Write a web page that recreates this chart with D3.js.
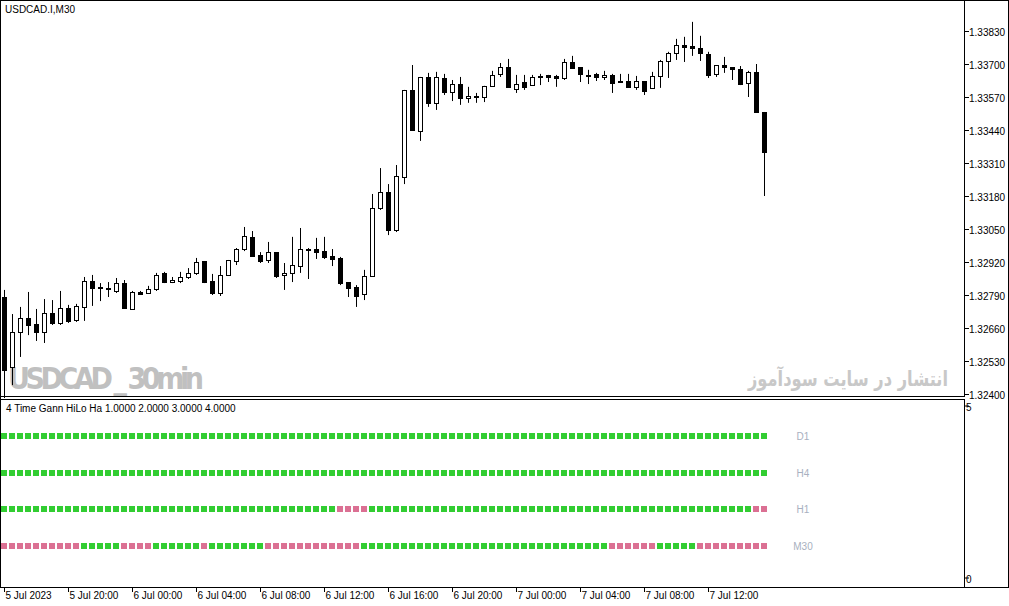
<!DOCTYPE html>
<html><head><meta charset="utf-8">
<script src="https://cdn.jsdelivr.net/npm/d3@7"></script>
<style>body{margin:0;background:#fff}svg{display:block;font-family:Tahoma,"Liberation Sans",sans-serif}</style>
</head><body><svg id="c" width="1009" height="606"></svg>
<script>
// prices in points (1e-5)
const open = [132782,132506,132644,132699,132676,132644,132719,132680,132739,132692,132743,132845,132822,132814,132806,132837,132735,132802,132798,132814,132877,132841,132845,132861,132877,132924,132845,132798,132869,132924,132971,133019,132948,132928,132959,132869,132877,132904,132971,132971,132963,132944,132936,132841,132822,132794,132865,133133,133196,133046,133255,133598,133436,133649,133547,133645,133590,133621,133566,133574,133570,133614,133661,133688,133602,133629,133617,133653,133657,133653,133645,133708,133688,133657,133661,133649,133657,133633,133633,133610,133633,133606,133653,133712,133744,133775,133771,133763,133740,133661,133696,133688,133681,133625,133669,133511];
const high = [132810,132715,132743,132802,132735,132774,132770,132806,132751,132755,132861,132869,132837,132841,132857,132849,132806,132806,132826,132877,132881,132861,132881,132896,132936,132924,132873,132904,132928,132975,133058,133042,132959,132999,132959,132916,133019,133054,132975,133015,133019,132971,132940,132841,132829,132889,133188,133290,133227,133302,133598,133696,133649,133665,133669,133661,133637,133649,133610,133586,133614,133673,133704,133720,133657,133657,133657,133661,133657,133657,133720,133732,133688,133677,133665,133673,133661,133661,133661,133653,133633,133669,133716,133748,133799,133807,133866,133811,133748,133696,133728,133688,133692,133673,133700,133511];
const low = [132384,132435,132546,132632,132609,132601,132672,132672,132680,132684,132688,132747,132766,132782,132798,132735,132735,132790,132794,132806,132837,132837,132837,132853,132869,132837,132790,132786,132869,132908,132963,132944,132916,132916,132857,132810,132841,132877,132853,132932,132932,132904,132829,132782,132743,132770,132865,133125,133026,133038,133227,133436,133397,133531,133519,133578,133554,133539,133547,133547,133550,133614,133649,133610,133586,133598,133614,133617,133629,133610,133637,133681,133629,133621,133633,133637,133586,133629,133610,133598,133578,133602,133606,133645,133716,133708,133732,133712,133645,133649,133665,133637,133617,133570,133511,133180];
const close = [132495,132644,132699,132672,132644,132719,132680,132739,132688,132747,132845,132818,132818,132818,132837,132739,132802,132794,132814,132869,132841,132849,132861,132877,132920,132841,132798,132869,132928,132971,133023,132944,132924,132959,132865,132877,132908,132971,132971,132959,132940,132932,132837,132818,132786,132865,133133,133196,133046,133259,133598,133440,133649,133547,133649,133590,133621,133566,133574,133570,133614,133657,133688,133610,133621,133610,133649,133653,133649,133645,133708,133684,133661,133657,133649,133657,133625,133629,133610,133633,133594,133653,133712,133744,133775,133767,133763,133744,133657,133696,133688,133681,133621,133669,133511,133353];
// Gann HiLo state per timeframe: 1 = up (green), 0 = down (pink); [count, state]
const tfLabels = ["D1","H4","H1","M30"];
const tfLevels = [4,3,2,1];
const runsD1  = [[96,1]];
const runsH4  = [[96,1]];
const runsH1  = [[42,1],[4,0],[48,1],[2,0]];
const runsM30 = [[10,0],[5,1],[4,0],[6,1],[1,0],[7,1],[12,0],[31,1],[6,0],[5,1],[9,0]];
const priceTicks = [1.32400,1.32530,1.32660,1.32790,1.32920,1.33050,1.33180,1.33310,1.33440,1.33570,1.33700,1.33830];
const timeLabels = [[0,"5 Jul 2023"],[8,"5 Jul 20:00"],[16,"6 Jul 00:00"],[24,"6 Jul 04:00"],[32,"6 Jul 08:00"],[40,"6 Jul 12:00"],[48,"6 Jul 16:00"],[56,"6 Jul 20:00"],[64,"7 Jul 00:00"],[72,"7 Jul 04:00"],[80,"7 Jul 08:00"],[88,"7 Jul 12:00"]];

const svg = d3.select("#c");
const N = open.length;
const x = d3.scaleLinear().domain([0, N-1]).range([4, 764]);
const y = d3.scaleLinear().domain([1.32400, 1.33830]).range([394, 31]);
const ys = d3.scaleLinear().domain([0,5]).range([583, 399]);
const P = v => v/1e5;
const F = "'Liberation Sans',Arial,sans-serif";

svg.append("rect").attr("x",0.5).attr("y",0.5).attr("width",1008).attr("height",587).attr("fill","none").attr("stroke","#000");
svg.append("rect").attr("x",0.5).attr("y",0.5).attr("width",964).attr("height",396).attr("fill","none").attr("stroke","#000");
svg.append("rect").attr("x",0.5).attr("y",399.5).attr("width",964).attr("height",188).attr("fill","none").attr("stroke","#000");

svg.append("text").attr("x",8).attr("y",389).attr("font-family","'Liberation Sans Narrow','DejaVu Sans Condensed',sans-serif").attr("font-weight","bold").attr("font-size",30).attr("fill","#c0c0c0").attr("textLength",196).text("USDCAD _ 30min");
svg.append("text").attr("x",948).attr("y",386).attr("text-anchor","end").attr("font-family","'DejaVu Sans',sans-serif").attr("font-weight","bold").attr("font-size",21).attr("fill","#c8c8c8").attr("textLength",200).attr("lengthAdjust","spacingAndGlyphs").text("انتشار در سایت سودآموز");

const g = svg.append("g");
d3.range(N).forEach(i=>{
  const cx = Math.round(x(i))+0.5;
  g.append("line").attr("x1",cx).attr("x2",cx).attr("y1",y(P(high[i]))).attr("y2",y(P(low[i]))).attr("stroke","#000");
  const t = Math.min(y(P(open[i])), y(P(close[i]))), b = Math.max(y(P(open[i])), y(P(close[i])));
  g.append("rect").attr("x",cx-2).attr("y",Math.round(t)+0.5).attr("width",4).attr("height",Math.max(1,Math.round(b-t)))
   .attr("fill", close[i] < open[i] ? "#000" : "#fff").attr("stroke","#000");
});

priceTicks.forEach(p=>{
  const yy = Math.round(y(p))+0.5;
  svg.append("line").attr("x1",965).attr("x2",969).attr("y1",yy).attr("y2",yy).attr("stroke","#000");
  svg.append("text").attr("x",969).attr("y",yy+4).attr("font-family",F).attr("font-size",10).attr("fill","#000").text(p.toFixed(5));
});
svg.append("text").attr("x",5).attr("y",13).attr("font-family",F).attr("font-size",10).text("USDCAD.I,M30");

svg.append("text").attr("x",6).attr("y",412).attr("font-family",F).attr("font-size",10).text("4 Time Gann HiLo Ha 1.0000 2.0000 3.0000 4.0000");
[[5,406,"5"],[0,578,"0"]].forEach(([v,yy,t])=>{
  svg.append("line").attr("x1",965).attr("x2",969).attr("y1",yy).attr("y2",yy).attr("stroke","#000");
  svg.append("text").attr("x",966).attr("y",yy+5).attr("font-family",F).attr("font-size",10).text(t);
});
[runsD1, runsH4, runsH1, runsM30].forEach((runs,k)=>{
  const states = [];
  runs.forEach(([n,s])=>{ for(let j=0;j<n;j++) states.push(s); });
  const yy = Math.round(ys(tfLevels[k]));
  states.forEach((s,i)=>{
    svg.append("rect").attr("x",x(i)-3).attr("y",yy-3).attr("width",6).attr("height",6)
      .attr("fill", s ? "#32CD32" : "#DB7093");
  });
  svg.append("text").attr("x",803).attr("y",yy+4).attr("text-anchor","middle").attr("font-family",F).attr("font-size",10).attr("fill","#a8b0c0").text(tfLabels[k]);
});

timeLabels.forEach(([i,t])=>{
  const xx = Math.round(x(i))+0.5;
  svg.append("line").attr("x1",xx).attr("x2",xx).attr("y1",588).attr("y2",592).attr("stroke","#000");
  svg.append("text").attr("x",xx+1).attr("y",599).attr("font-family",F).attr("font-size",10).text(t);
});
</script></body></html>
